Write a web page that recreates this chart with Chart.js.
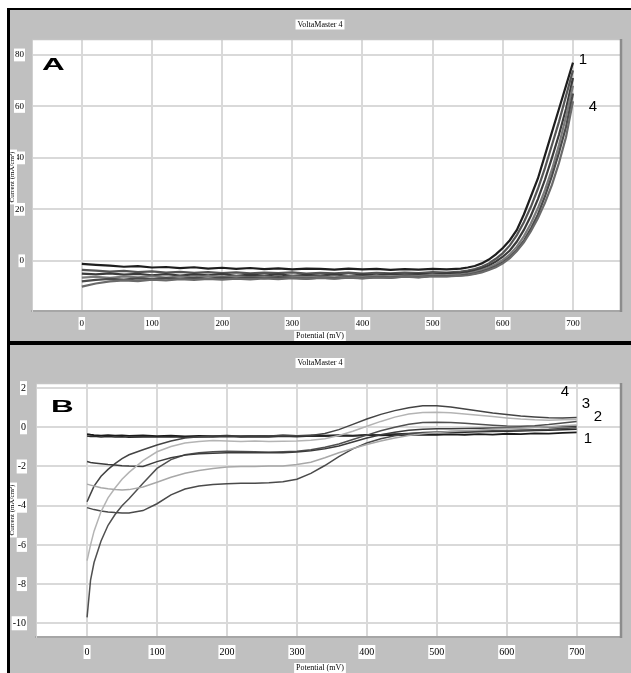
<!DOCTYPE html>
<html>
<head>
<meta charset="utf-8">
<script src="https://cdn.jsdelivr.net/npm/chart.js@4.4.1/dist/chart.umd.min.js"></script>
<style>
  body { margin:0; width:631px; height:673px; background:#fff; position:relative; overflow:hidden; }
  #frame { position:absolute; left:7px; top:8px; right:0; bottom:0; background:#000; }
  .panel { position:absolute; left:10px; width:621px; background:#c0c0c0; }
  #panelA { top:10px; height:331px; }
  #panelB { top:345px; height:328px; }
  canvas { display:block; }
</style>
</head>
<body>
<div id="frame"></div>
<div class="panel" id="panelA"><canvas id="chartA" width="621" height="331"></canvas></div>
<div class="panel" id="panelB"><canvas id="chartB" width="621" height="328"></canvas></div>
<script>
// ---- panel A data (potential mV, current mA/cm2) ----
const potA = [0,20,40,60,80,100,120,140,160,180,200,220,240,260,280,300,320,340,360,380,400,420,440,460,480,500,520,540,
              550,560,570,580,590,600,610,620,630,640,650,660,670,680,690,700];
const curveA1 = [-1.2,-1.6,-1.9,-2.3,-2.1,-2.6,-2.4,-2.8,-2.5,-3.0,-2.7,-3.1,-2.8,-3.2,-2.9,-3.3,-3.0,-3.1,-3.4,-3.0,-3.3,-3.1,-3.5,-3.2,-3.4,-3.1,-3.3,-3.0,
                 -2.6,-2.0,-1.0,0.5,2.5,5,8,12,18,25,32,41,50,59,68,77];
const curveA2 = [-3.5,-3.8,-4.2,-3.9,-4.4,-4.1,-4.6,-4.3,-4.7,-4.4,-4.8,-4.5,-4.9,-4.6,-4.8,-4.5,-5.0,-4.7,-4.9,-4.6,-5.0,-4.7,-4.9,-4.6,-4.8,-4.4,-4.6,-4.2,
                 -3.8,-3.2,-2.3,-1.0,0.8,3,6,10,15,21,28,36,45,54,64,74];
const curveA3 = [-5.0,-5.3,-4.9,-5.4,-5.1,-5.6,-5.2,-5.7,-5.3,-5.6,-5.2,-5.8,-5.4,-5.7,-5.3,-5.8,-5.5,-5.7,-5.3,-5.8,-5.4,-5.6,-5.2,-5.5,-5.1,-5.3,-4.9,-4.8,
                 -4.4,-3.8,-3.0,-1.8,-0.3,1.6,4,7.5,12,17.5,24,31.5,40,49,59,71];
const curveA4 = [-6.5,-6.2,-6.6,-6.1,-6.4,-6.0,-6.5,-6.1,-6.4,-5.9,-6.3,-6.0,-6.4,-6.1,-6.5,-6.0,-6.3,-6.1,-6.4,-5.9,-6.2,-5.8,-6.1,-5.7,-5.9,-5.5,-5.6,-5.3,
                 -5.0,-4.4,-3.6,-2.6,-1.3,0.3,2.5,5.5,9.5,14.5,20.5,27.5,35.5,45,56,68];
const curveA5 = [-8.0,-7.4,-7.0,-7.3,-6.8,-7.1,-6.7,-7.0,-6.6,-6.9,-6.5,-6.8,-6.4,-6.7,-6.3,-6.6,-6.9,-6.5,-6.8,-6.4,-6.7,-6.3,-6.5,-6.1,-6.3,-5.9,-6.0,-5.7,
                 -5.4,-4.9,-4.2,-3.3,-2.1,-0.6,1.4,4.2,7.8,12.5,18,25,33,42,52,65];
const curveA6 = [-10.0,-8.8,-8.0,-7.6,-7.9,-7.3,-7.6,-7.1,-7.4,-7.0,-7.3,-6.9,-7.2,-6.8,-7.1,-6.7,-7.0,-6.6,-6.9,-6.5,-6.8,-6.4,-6.6,-6.2,-6.4,-6.0,-6.1,-5.8,
                 -5.6,-5.1,-4.5,-3.6,-2.5,-1.0,1,3.8,7.2,11.5,16.5,22.5,29.5,38,48,62];

// ---- panel B data ----
const potB = [0,5,10,20,30,40,50,60,80,100,120,140,160,180,200,220,240,260,280,300,320,340,360,380,400,
              420,440,460,480,500,520,540,560,580,600,620,640,660,680,700];
const curveB1 = [-0.35,-0.38,-0.4,-0.42,-0.4,-0.43,-0.41,-0.44,-0.42,-0.45,-0.43,-0.46,-0.44,-0.45,-0.43,-0.46,-0.44,-0.45,-0.42,-0.44,
                 -0.41,-0.43,-0.4,-0.42,-0.39,-0.41,-0.38,-0.4,-0.37,-0.39,-0.36,-0.38,-0.35,-0.37,-0.33,-0.35,-0.31,-0.32,-0.28,-0.26];
const curveB1b = [-0.45,-0.47,-0.46,-0.49,-0.47,-0.5,-0.48,-0.51,-0.49,-0.5,-0.48,-0.51,-0.49,-0.5,-0.47,-0.5,-0.48,-0.49,-0.46,-0.48,
                  -0.45,-0.46,-0.43,-0.44,-0.4,-0.38,-0.34,-0.32,-0.29,-0.28,-0.26,-0.25,-0.23,-0.22,-0.2,-0.19,-0.17,-0.15,-0.13,-0.1];
const curveB4 = [-3.8,-3.4,-3.0,-2.5,-2.15,-1.85,-1.6,-1.4,-1.15,-0.9,-0.7,-0.55,-0.48,-0.45,-0.44,-0.45,-0.43,-0.44,-0.42,-0.43,
                 -0.42,-0.32,-0.12,0.15,0.42,0.66,0.85,1.0,1.1,1.1,1.03,0.93,0.83,0.73,0.65,0.58,0.53,0.49,0.48,0.5];
const curveB3 = [-6.8,-6.0,-5.3,-4.3,-3.6,-3.1,-2.65,-2.3,-1.7,-1.25,-0.98,-0.8,-0.72,-0.68,-0.7,-0.72,-0.7,-0.73,-0.71,-0.7,
                 -0.66,-0.58,-0.42,-0.2,0.05,0.3,0.52,0.68,0.76,0.77,0.74,0.68,0.62,0.55,0.48,0.42,0.38,0.36,0.38,0.4];
const curveB2 = [-9.7,-7.8,-6.9,-5.8,-5.0,-4.45,-4.0,-3.65,-2.85,-2.1,-1.65,-1.4,-1.3,-1.25,-1.22,-1.24,-1.25,-1.27,-1.25,-1.22,
                 -1.15,-1.02,-0.85,-0.62,-0.4,-0.18,0.0,0.15,0.24,0.26,0.24,0.2,0.15,0.1,0.06,0.05,0.08,0.14,0.22,0.3];
const curveB2b = [-1.75,-1.8,-1.82,-1.86,-1.9,-1.93,-1.96,-1.98,-2.0,-1.75,-1.55,-1.42,-1.35,-1.32,-1.3,-1.28,-1.3,-1.28,-1.3,-1.26,
                  -1.2,-1.1,-0.95,-0.75,-0.55,-0.38,-0.25,-0.15,-0.1,-0.08,-0.07,-0.06,-0.05,-0.04,-0.03,-0.02,0.0,0.01,0.03,0.05];
const curveB5 = [-2.9,-2.95,-3.0,-3.08,-3.14,-3.18,-3.2,-3.18,-3.05,-2.8,-2.55,-2.35,-2.2,-2.1,-2.03,-2.0,-2.0,-1.98,-1.97,-1.9,
                 -1.78,-1.55,-1.3,-1.08,-0.88,-0.7,-0.55,-0.42,-0.33,-0.27,-0.22,-0.18,-0.14,-0.1,-0.07,-0.04,-0.01,0.03,0.08,0.12];
const curveB6 = [-4.1,-4.15,-4.2,-4.27,-4.32,-4.35,-4.37,-4.37,-4.25,-3.9,-3.45,-3.15,-3.0,-2.92,-2.88,-2.86,-2.85,-2.83,-2.78,-2.65,
                 -2.35,-1.95,-1.5,-1.1,-0.8,-0.58,-0.43,-0.33,-0.27,-0.24,-0.22,-0.2,-0.19,-0.17,-0.16,-0.14,-0.12,-0.1,-0.06,-0.02];

const ticksXA = 100, ticksYA = 20, ticksYB = 2;
const titleText = 'VoltaMaster 4';
const xTitle = 'Potential (mV)';
const yTitle = 'Current (mA/cm\u00b2)';

function pts(xs, ys) { return xs.map((x, i) => ({ x: x, y: ys[i] })); }
function ds(xs, ys, color, w) {
  return { data: pts(xs, ys), borderColor: color, borderWidth: w, pointRadius: 0, fill: false, tension: 0 };
}

function boxText(ctx, txt, x, y, size, rot) {
  ctx.save();
  ctx.translate(x, y);
  if (rot) ctx.rotate(rot);
  ctx.font = size + 'px "Liberation Serif"';
  const w = ctx.measureText(txt).width;
  ctx.fillStyle = '#fff';
  ctx.fillRect(-w / 2 - 2, -size / 2 - 1, w + 4, size + 2);
  ctx.fillStyle = '#000';
  ctx.textAlign = 'center';
  ctx.textBaseline = 'middle';
  ctx.fillText(txt, 0, 0);
  ctx.restore();
}

const overlay = {
  id: 'overlay',
  beforeDraw(chart) {
    const a = chart.chartArea, ctx = chart.ctx;
    ctx.save();
    ctx.fillStyle = '#fff';
    ctx.fillRect(a.left, a.top, a.right - a.left, a.bottom - a.top);
    ctx.restore();
  },
  afterDraw(chart, args, o) {
    const a = chart.chartArea, ctx = chart.ctx;
    ctx.save();
    ctx.strokeStyle = '#c4c4c4'; ctx.lineWidth = 1.5;
    ctx.beginPath(); ctx.moveTo(a.left, a.top + 0.5); ctx.lineTo(a.right, a.top + 0.5); ctx.stroke();
    ctx.strokeStyle = '#8c8c8c'; ctx.lineWidth = 2.5;
    ctx.beginPath(); ctx.moveTo(a.right + 1, a.top); ctx.lineTo(a.right + 1, a.bottom + 1); ctx.stroke();
    ctx.restore();
    boxText(ctx, titleText, 310, o.titleY, 8);
    boxText(ctx, xTitle, 310, o.xTitleY, 8);
    boxText(ctx, yTitle, 2.5, o.yTitleY, 7, -Math.PI / 2);
    // panel letter, stretched wide like the original
    ctx.save();
    ctx.translate(o.letterX, o.letterY);
    ctx.scale(1.85, 1);
    ctx.font = 'bold 17px "Liberation Sans"';
    ctx.fillStyle = '#000';
    ctx.textBaseline = 'alphabetic';
    ctx.fillText(o.letter, 0, 0);
    ctx.restore();
    ctx.save();
    ctx.font = '15px "Liberation Sans"';
    ctx.fillStyle = '#000';
    ctx.textAlign = 'center';
    ctx.textBaseline = 'middle';
    o.marks.forEach(m => ctx.fillText(m[0], m[1], m[2]));
    ctx.restore();
  }
};

function scales(xmin, xmax, ymin, ymax, ystep, yw, xh, fs, ypad, xpad) {
  return {
    x: {
      type: 'linear', min: xmin, max: xmax,
      afterBuildTicks: s => { s.ticks = s.ticks.filter(t => Math.abs(t.value % ticksXA) < 1e-6); },
      afterFit: s => { s.height = xh; },
      grid: { color: '#d9d9d9', lineWidth: 2, drawTicks: false },
      border: { display: true, color: '#a6a6a6', width: 2 },
      ticks: { stepSize: ticksXA, includeBounds: false, padding: xpad, color: '#000', font: { family: 'Liberation Serif', size: fs },
               showLabelBackdrop: true, backdropColor: '#fff', backdropPadding: 1, maxRotation: 0 }
    },
    y: {
      min: ymin, max: ymax,
      afterBuildTicks: s => { s.ticks = s.ticks.filter(t => Math.abs(t.value % ystep) < 1e-6); },
      afterFit: s => { s.width = yw; },
      grid: { color: '#d9d9d9', lineWidth: 2, drawTicks: false },
      border: { display: true, color: '#d0d0d0', width: 1 },
      ticks: { stepSize: ystep, includeBounds: false, padding: ypad, color: '#000', font: { family: 'Liberation Serif', size: fs },
               showLabelBackdrop: true, backdropColor: '#fff', backdropPadding: 1 }
    }
  };
}

new Chart(document.getElementById('chartA'), {
  type: 'line',
  data: {
    datasets: [
      ds(potA, curveA6, '#6a6a6a', 2.2),
      ds(potA, curveA5, '#4a4a4a', 2.2),
      ds(potA, curveA4, '#7a7a7a', 2.2),
      ds(potA, curveA3, '#3a3a3a', 2.2),
      ds(potA, curveA2, '#555555', 2.2),
      ds(potA, curveA1, '#1e1e1e', 2.2)
    ]
  },
  options: {
    responsive: false, animation: false,
    layout: { padding: { left: 0, right: 11, top: 29, bottom: 0 } },
    scales: scales(-71, 767, -19.5, 86.2, ticksYA, 22, 30, 9, 8, 7),
    plugins: {
      legend: { display: false }, tooltip: { enabled: false },
      overlay: { titleY: 14.5, xTitleY: 326, yTitleY: 167, letter: 'A', letterX: 32, letterY: 60,
                 marks: [['1', 573, 50], ['4', 583, 97]] }
    }
  },
  plugins: [overlay]
});

new Chart(document.getElementById('chartB'), {
  type: 'line',
  data: {
    datasets: [
      ds(potB, curveB5, '#a8a8a8', 1.5),
      ds(potB, curveB3, '#b4b4b4', 1.5),
      ds(potB, curveB6, '#4a4a4a', 1.5),
      ds(potB, curveB2b, '#3c3c3c', 1.5),
      ds(potB, curveB2, '#505050', 1.5),
      ds(potB, curveB4, '#444444', 1.5),
      ds(potB, curveB1b, '#2a2a2a', 1.5),
      ds(potB, curveB1, '#1a1a1a', 1.8)
    ]
  },
  options: {
    responsive: false, animation: false,
    layout: { padding: { left: 0, right: 11, top: 38, bottom: 0 } },
    scales: scales(-73, 762, -10.7, 2.26, ticksYB, 26, 36, 10, 10, 9),
    plugins: {
      legend: { display: false }, tooltip: { enabled: false },
      overlay: { titleY: 18, xTitleY: 323, yTitleY: 165, letter: 'B', letterX: 41, letterY: 67,
                 marks: [['4', 555, 47], ['3', 576, 59], ['2', 588, 72], ['1', 578, 94]] }
    }
  },
  plugins: [overlay]
});
</script>
</body>
</html>
